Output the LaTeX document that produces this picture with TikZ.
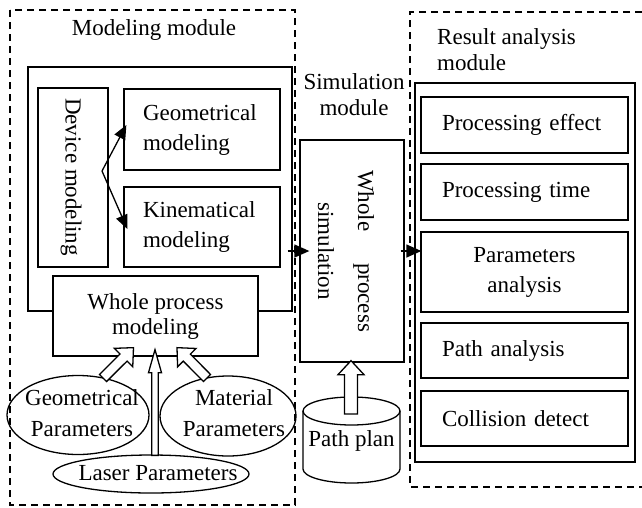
\documentclass[tikz,border=0pt]{standalone}
\usepackage{fontspec}
\setmainfont{Liberation Serif}
\usetikzlibrary{shapes.geometric,arrows.meta,calc}
\tikzset{
  box/.style={draw, line width=1.3pt, fill=white, inner sep=0pt, rectangle},
  modbox/.style={draw, line width=1.1pt, dash pattern=on 7pt off 5pt},
  txt/.style={inner sep=0pt, font=\fontsize{23}{27}\selectfont},
  rbox/.style={box, minimum width=207pt, text width=165pt, inner xsep=21pt, align=left, font=\fontsize{23}{30}\selectfont},
  mbox/.style={box, minimum width=156pt, text width=118pt, inner xsep=19pt, align=left, font=\fontsize{23}{30}\selectfont},
  ell/.style={ellipse, draw, line width=1.3pt, inner sep=0pt},
  conn/.style={line width=1.3pt, -{Triangle[length=14pt,width=12pt]}},
  modconn/.style={line width=1.3pt, -{Triangle[length=15pt,width=13pt]}},
}
\newcommand{\hollowarrow}[5]{%
  \coordinate (hbase) at ($(#2)!#5!(#1)$);
  \draw[line width=1.3pt, fill=white, line join=miter]
    ($(#1)!#3!90:(#2)$) -- ($(hbase)!#3!-90:(#1)$) -- ($(hbase)!#4!-90:(#1)$) -- (#2)
    -- ($(hbase)!#4!90:(#1)$) -- ($(hbase)!#3!90:(#1)$) -- ($(#1)!#3!-90:(#2)$) -- cycle;}
\begin{document}
\begin{tikzpicture}[x=1pt,y=-1pt]
\useasboundingbox (0,0) rectangle (642,507);
% module frames
\draw[modbox] (10,10) rectangle (295,505);
\draw[modbox] (642,12) -- (410,12) -- (410,487) -- (642,487);
\node[txt] (modlabel) at (154,30) {Modeling module};
\node[txt, align=center, font=\fontsize{23}{26}\selectfont] (simlabel) at (354,95) {Simulation\\module};
\node[txt, align=left, anchor=west, font=\fontsize{23}{26}\selectfont] (reslabel) at (437,50) {Result analysis\\module};
% modeling module
\node[box, minimum width=264pt, minimum height=244pt] (inner) at (160,189) {};
\node[box, minimum width=70pt, minimum height=179pt] (dev) at (73,177.5) {};
\node[txt, rotate=-90] (devt) at (71,177) {Device modeling};
\node[mbox, minimum height=81pt] (geom) at (202,129.5) {Geometrical\\modeling};
\node[mbox, minimum height=80pt] (kin) at (202,227) {Kinematical\\modeling};
\coordinate (fork) at (102,171);
\draw[conn] (fork) -- ($(geom.west)+(3,-4.5)$);
\draw[conn] (fork) -- ($(kin.west)+(4,2)$);
\node[box, minimum width=205pt, minimum height=80pt, align=center, font=\fontsize{23}{25}\selectfont] (whole) at (155.5,316) {Whole process\\modeling};
% parameter ellipses
\node[ell, minimum width=142pt, minimum height=79pt] (geoP) at (78,415) {};
\node[txt, align=center, font=\fontsize{23}{31}\selectfont] (geoPt) at (82,413) {Geometrical\\Parameters};
\node[ell, minimum width=136pt, minimum height=80pt] (matP) at (228,416) {};
\node[txt, align=center, font=\fontsize{23}{31}\selectfont] (matPt) at (234,413) {Material\\Parameters};
\node[ell, minimum width=196pt, minimum height=38pt] (laser) at (151,474) {};
\node[txt] (lasert) at (158,473) {Laser Parameters};
\coordinate (geoA) at (103,378);
\coordinate (matA) at (207,378);
\coordinate (lasA) at ($(laser.north)+(4,1)$);
\hollowarrow{geoA}{$(whole.south)+(-22,-9)$}{5pt}{13pt}{14pt}
\hollowarrow{matA}{$(whole.south)+(21.5,-9)$}{5pt}{13pt}{14pt}
\hollowarrow{lasA}{$(whole.south)+(-0.5,-7)$}{3.2pt}{6.5pt}{23pt}
% simulation module
\node[box, minimum width=104pt, minimum height=222pt] (sim) at (352,251) {};
\node[txt, rotate=-90, align=center, font=\fontsize{23}{40}\selectfont] (simt) at (346,251) {\makebox[162pt][s]{Whole process}\\simulation};
\draw[line width=1.3pt, fill=white] (303,411) -- (303,469) arc[start angle=180, end angle=360, x radius=48.5pt, y radius=14pt] -- (400,411);
\draw[line width=1.3pt] (351.5,411) ellipse [x radius=48.5pt, y radius=14pt];
\node[txt] (pathplan) at (351.5,441) {Path plan};
\coordinate (cyltop) at (351,414);
\hollowarrow{cyltop}{$(sim.south)+(-1,-2)$}{6.5pt}{13pt}{14pt}
% result analysis module
\node[box, minimum width=220pt, minimum height=379pt] (resbox) at (525,272.5) {};
\node[rbox, minimum height=56pt] (r1) at (524.5,125) {Processing effect};
\node[rbox, minimum height=56pt] (r2) at (524.5,192) {Processing time};
\node[rbox, minimum height=80pt, align=center] (r3) at (524.5,272) {Parameters\\analysis};
\node[rbox, minimum height=55pt] (r4) at (524.5,350.5) {Path analysis};
\node[rbox, minimum height=55pt] (r5) at (524.5,418.5) {Collision detect};
% module connectors
\draw[modconn] ($(inner.east |- sim.west)+(-5,0)$) -- ($(sim.west)+(10,0)$);
\draw[modconn] ($(sim.east)+(-4,0)$) -- ($(resbox.west |- sim.east)+(7,0)$);
\end{tikzpicture}
\end{document}
